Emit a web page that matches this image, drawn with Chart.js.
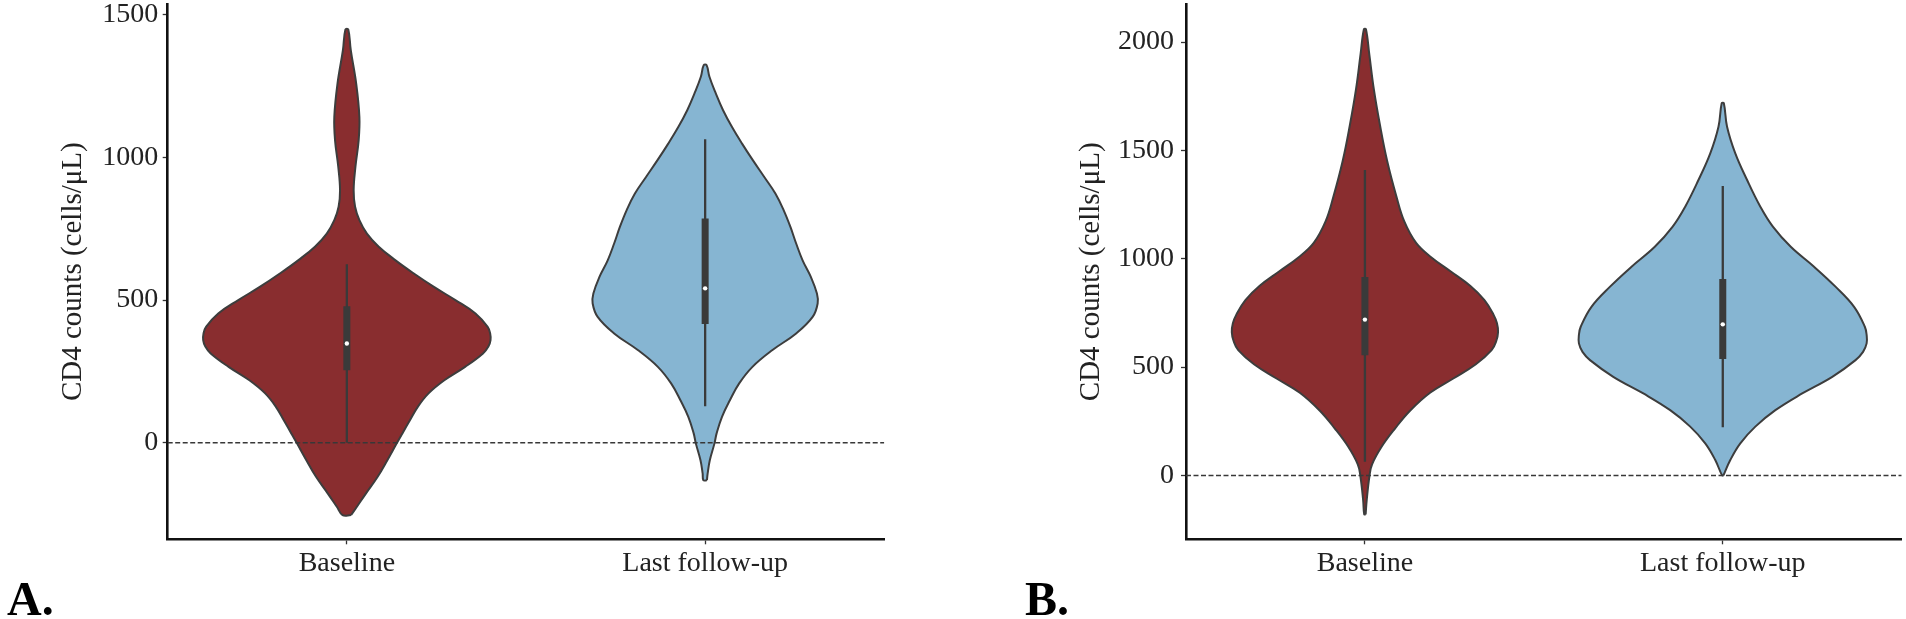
<!DOCTYPE html>
<html>
<head>
<meta charset="utf-8">
<script src="https://cdn.jsdelivr.net/npm/chart.js@4.4.1/dist/chart.umd.min.js"></script>
<style>
  html, body { margin: 0; padding: 0; background: #fff; }
  #wrap { position: relative; width: 1906px; height: 619px; background: #fff; overflow: hidden; }
  canvas { position: absolute; top: 0; }
  .tag { position: absolute; top: 575px; font: bold 48px/48px "Liberation Serif", "Times New Roman", serif; color: #000; }
</style>
</head>
<body>
<div id="wrap">
  <canvas id="chartA" width="900" height="619" style="left:0px"></canvas>
  <canvas id="chartB" width="906" height="619" style="left:1000px"></canvas>
  <div class="tag" style="left:7px">A.</div>
  <div class="tag" style="left:1025px">B.</div>
</div>
<script>
const categories = ['Baseline', 'Last follow-up'];
const yTicksA = [0, 500, 1000, 1500];
const yTicksB = [0, 500, 1000, 1500, 2000];

// violin outlines: CD4 value and half width (in category units)
const aBaseVals = [-253, -224, -178, -119, -61, 0, 33, 79, 126, 173, 219, 266, 313, 337, 360, 383, 406, 453, 500, 546, 593, 640, 687, 733, 780, 827, 885, 967, 1060, 1142, 1259, 1375, 1448];
const aBaseHalf = [0.012, 0.028, 0.053, 0.086, 0.113, 0.140, 0.155, 0.176, 0.198, 0.228, 0.272, 0.330, 0.380, 0.395, 0.401, 0.400, 0.393, 0.359, 0.303, 0.243, 0.187, 0.135, 0.089, 0.056, 0.035, 0.023, 0.019, 0.024, 0.033, 0.035, 0.026, 0.011, 0.004];

const aFollowVals = [-131, -107, -61, -2, 33, 91, 149, 208, 266, 325, 383, 441, 488, 523, 581, 639, 698, 756, 815, 873, 931, 990, 1048, 1106, 1165, 1223, 1282, 1323];
const aFollowHalf = [0.005, 0.007, 0.013, 0.026, 0.032, 0.047, 0.069, 0.095, 0.132, 0.188, 0.254, 0.300, 0.314, 0.312, 0.295, 0.272, 0.254, 0.238, 0.219, 0.196, 0.165, 0.133, 0.103, 0.075, 0.050, 0.030, 0.012, 0.004];

const bBaseVals = [-180, -114, 0, 51, 133, 216, 298, 381, 447, 513, 578, 620, 661, 702, 743, 809, 875, 941, 1007, 1073, 1172, 1287, 1452, 1617, 1781, 1946, 2058];
const bBaseHalf = [0.002, 0.005, 0.013, 0.020, 0.047, 0.084, 0.126, 0.182, 0.247, 0.310, 0.354, 0.367, 0.372, 0.369, 0.359, 0.334, 0.294, 0.240, 0.185, 0.143, 0.110, 0.088, 0.062, 0.042, 0.025, 0.012, 0.003];

const bFollowVals = [0, 71, 148, 225, 301, 378, 455, 532, 570, 609, 648, 686, 778, 871, 963, 1055, 1148, 1240, 1363, 1486, 1609, 1717];
const bFollowHalf = [0.002, 0.021, 0.049, 0.091, 0.147, 0.222, 0.306, 0.371, 0.392, 0.402, 0.402, 0.397, 0.367, 0.315, 0.255, 0.190, 0.140, 0.105, 0.068, 0.035, 0.012, 0.003];

// inner box: whisker low, q1, median, q3, whisker high
const aBaseBox = [0, 254, 348, 478, 625];
const aFollowBox = [128, 416, 541, 786, 1063];
const bBaseBox = [63, 554, 719, 916, 1409];
const bFollowBox = [222, 537, 697, 906, 1335];

const red = '#892d2f';
const blue = '#86b5d2';
const edge = '#3d3d3d';
const serif = '"Liberation Serif", "Times New Roman", serif';

const outline = (center, vals, half) => {
    const right = vals.map((v, i) => ({x: center + half[i], y: v}));
    const left = vals.map((v, i) => ({x: center - half[i], y: v})).reverse();
    const pts = right.concat(left);
    pts.push(right[0]);
    return pts;
}

const violinSets = (center, vals, half, box, color) => [
    {
        data: outline(center, vals, half),
        backgroundColor: color, borderColor: edge, borderWidth: 2,
        fill: 'shape', tension: 0.4, pointRadius: 0, order: 5
    },
    {
        data: [{x: center, y: box[0]}, {x: center, y: box[4]}],
        borderColor: '#3a3a3a', borderWidth: 2.3, borderCapStyle: 'butt',
        pointRadius: 0, fill: false, order: 3
    },
    {
        data: [{x: center, y: box[1]}, {x: center, y: box[3]}],
        borderColor: '#3a3a3a', borderWidth: 7, borderCapStyle: 'butt',
        pointRadius: 0, fill: false, order: 2
    },
    {
        data: [{x: center, y: box[2]}],
        showLine: false, pointRadius: 2.2, pointBackgroundColor: '#fff',
        pointBorderWidth: 0, order: 1
    }
];

const makeChart = (id, cfg) => {
    const datasets = [
        ...violinSets(0, cfg.base[0], cfg.base[1], cfg.base[2], red),
        ...violinSets(1, cfg.follow[0], cfg.follow[1], cfg.follow[2], blue),
        {
            data: [{x: -0.5, y: 0}, {x: 1.5, y: 0}],
            borderColor: '#383838', borderWidth: 1.5, borderDash: [5, 2.5],
            pointRadius: 0, fill: false, order: 0
        }
    ];
    return new Chart(document.getElementById(id), {
        type: 'line',
        data: {datasets: datasets},
        options: {
            responsive: false,
            animation: false,
            layout: {padding: {top: cfg.top, right: cfg.right, left: 0, bottom: 0}},
            plugins: {legend: {display: false}, tooltip: {enabled: false}},
            scales: {
                x: {
                    type: 'linear', min: -0.5, max: 1.5,
                    afterBuildTicks: s => { s.ticks = [{value: 0}, {value: 1}]; },
                    afterFit: s => { s.height = 79.7; s.paddingLeft = 0; s.paddingRight = 0; },
                    border: {display: true, color: '#111', width: 2.6},
                    grid: {drawOnChartArea: false, drawTicks: true, tickLength: 5, tickColor: '#333', tickWidth: 1.3},
                    ticks: {
                        padding: 3, color: '#222', maxRotation: 0,
                        font: {family: serif, size: 28},
                        callback: (v, i) => categories[i]
                    }
                },
                y: {
                    min: cfg.yMin, max: cfg.yMax,
                    afterBuildTicks: s => { s.ticks = cfg.yTicks.map(v => ({value: v})); },
                    afterFit: s => { s.width = cfg.yWidth; s.paddingTop = 0; s.paddingBottom = 0; },
                    border: {display: true, color: '#111', width: 2.6},
                    grid: {drawOnChartArea: false, drawTicks: true, tickLength: 5, tickColor: '#333', tickWidth: 1.3},
                    ticks: {
                        padding: cfg.tickPad, color: '#222', font: {family: serif, size: 28},
                        callback: v => String(v)
                    },
                    title: {
                        display: true, text: 'CD4 counts (cells/μL)', color: '#222',
                        font: {family: serif, size: 29, lineHeight: 1.2},
                        padding: {top: cfg.titlePad, bottom: 0}
                    }
                }
            }
        }
    });
}

makeChart('chartA', {
    base: [aBaseVals, aBaseHalf, aBaseBox],
    follow: [aFollowVals, aFollowHalf, aFollowBox],
    yMin: -338, yMax: 1537, yTicks: yTicksA,
    yWidth: 167.7, top: 4, right: 15.7, tickPad: 4.5, titlePad: 56
});

makeChart('chartB', {
    base: [bBaseVals, bBaseHalf, bBaseBox],
    follow: [bFollowVals, bFollowHalf, bFollowBox],
    yMin: -295, yMax: 2174, yTicks: yTicksB,
    yWidth: 186, top: 4.3, right: 4.3, tickPad: 7, titlePad: 74
});
</script>
</body>
</html>
